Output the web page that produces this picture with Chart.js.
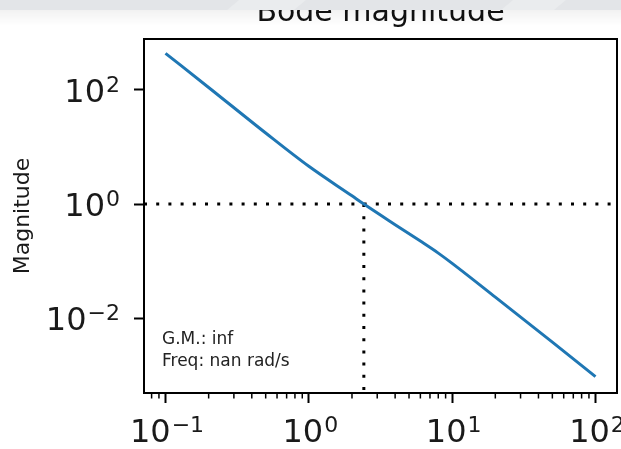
<!DOCTYPE html>
<html>
<head>
<meta charset="utf-8">
<title>Bode magnitude</title>
<script src="https://cdn.jsdelivr.net/npm/chart.js"></script>
<style>
  html, body { margin: 0; padding: 0; background: #fff; }
  canvas { display: block; }
</style>
</head>
<body>
<canvas id="bodeChart" width="621" height="449"></canvas>
<script>
    // Values
    const freqs = [0.1, 0.2, 0.5, 1, 2, 2.42, 4, 6, 8, 10, 20, 50, 100];
    const mags = [436, 110, 17.5, 4.57, 1.39, 1.0, 0.435, 0.224, 0.138, 0.0912, 0.0234, 0.0038, 0.00095];

    // major ticks and their exponents (labels drawn as 10^n)
    const xTicks = [0.1, 1, 10, 100];
    const xTickExps = ['−1', '0', '1', '2'];
    const yTicks = [0.01, 1, 100];
    const yTickExps = ['−2', '0', '2'];

    // axis limits (log decades)
    const xLimits = [Math.pow(10, -1.15), Math.pow(10, 2.15)];
    const yLimits = [Math.pow(10, -3.31), Math.pow(10, 2.89)];

    // crossover frequency (|G| = 1)
    const crossFreq = 2.42;
    const noteLines = ['G.M.: inf', 'Freq: nan rad/s'];

    const FONT = 'DejaVu Sans';

    // draw "10" with a raised exponent, like matplotlib mathtext
    function drawPow(ctx, exp, x, baseline, align) {
        ctx.font = '32px "' + FONT + '"';
        const wBase = ctx.measureText('10').width;
        ctx.font = '22px "' + FONT + '"';
        const wSup = ctx.measureText(exp).width;
        const total = wBase + wSup;
        const start = align === 'right' ? x - total : x - total / 2;
        ctx.textAlign = 'left';
        ctx.textBaseline = 'alphabetic';
        ctx.font = '32px "' + FONT + '"';
        ctx.fillText('10', start, baseline);
        ctx.font = '22px "' + FONT + '"';
        ctx.fillText(exp, start + wBase + 1, baseline - 10);
    }

    // Frame, minor ticks, tick labels, title, annotation and the grey strip at the top
    const decorPlugin = {
        id: 'decor',
        afterDraw(chart) {
            const ctx = chart.ctx;
            const area = chart.chartArea;
            const xs = chart.scales.x;
            const ys = chart.scales.y;
            ctx.save();

            // minor ticks on x
            ctx.strokeStyle = '#000';
            ctx.lineWidth = 1.5;
            for (let e = -2; e <= 2; e++) {
                for (let m = 2; m <= 9; m++) {
                    const v = m * Math.pow(10, e);
                    if (v < xs.min || v > xs.max) continue;
                    const px = xs.getPixelForValue(v);
                    ctx.beginPath();
                    ctx.moveTo(px, area.bottom);
                    ctx.lineTo(px, area.bottom + 5.5);
                    ctx.stroke();
                }
            }

            // axes box
            ctx.lineWidth = 2;
            ctx.strokeRect(area.left, area.top, area.right - area.left, area.bottom - area.top);

            // tick labels
            ctx.fillStyle = '#1a1a1a';
            xTicks.forEach((v, i) => {
                drawPow(ctx, xTickExps[i], xs.getPixelForValue(v) + 1, area.bottom + 49, 'center');
            });
            yTicks.forEach((v, i) => {
                drawPow(ctx, yTickExps[i], area.left - 25, ys.getPixelForValue(v) + 12, 'right');
            });

            // annotation
            ctx.fillStyle = '#222';
            ctx.font = '17px "' + FONT + '"';
            ctx.textBaseline = 'middle';
            ctx.textAlign = 'left';
            noteLines.forEach((t, i) => {
                ctx.fillText(t, area.left + 18, area.bottom - 53 + i * 22);
            });

            // title
            ctx.fillStyle = '#111';
            ctx.font = '30px "' + FONT + '"';
            ctx.textAlign = 'center';
            ctx.textBaseline = 'alphabetic';
            ctx.fillText('Bode magnitude', (area.left + area.right) / 2, 21);

            // grey strip at top
            const grad = ctx.createLinearGradient(0, 10, 0, 26);
            grad.addColorStop(0, 'rgba(0,0,0,0.05)');
            grad.addColorStop(1, 'rgba(0,0,0,0)');
            ctx.fillStyle = grad;
            ctx.fillRect(0, 10, chart.width, 16);
            ctx.fillStyle = '#e3e5e8';
            ctx.fillRect(0, 0, chart.width, 10);
            ctx.fillStyle = '#eaecee';
            [[233, 300], [507, 560]].forEach(([a, b]) => {
                ctx.beginPath();
                ctx.moveTo(a + 6, 0);
                ctx.lineTo(b + 6, 0);
                ctx.lineTo(b - 6, 10);
                ctx.lineTo(a - 6, 10);
                ctx.closePath();
                ctx.fill();
            });
            ctx.restore();
        }
    };

    const bodeData = {
        datasets: [{
            label: 'Magnitude',
            data: freqs.map((f, i) => ({ x: f, y: mags[i] })),
            borderColor: '#1f77b4',
            borderWidth: 3,
            pointRadius: 0,
            cubicInterpolationMode: 'monotone',
            order: 1
        },
        {
            label: 'unity',
            data: [{ x: xLimits[0], y: 1 }, { x: xLimits[1], y: 1 }],
            borderColor: '#000',
            borderWidth: 3,
            borderDash: [3, 9.2],
            pointRadius: 0,
            order: 2
        },
        {
            label: 'crossover',
            data: [{ x: crossFreq, y: 1 }, { x: crossFreq, y: yLimits[0] }],
            borderColor: '#000',
            borderWidth: 3,
            borderDash: [3, 9.2],
            pointRadius: 0,
            order: 2
        }]
    };

    const bodeConfig = {
        type: 'line',
        data: bodeData,
        options: {
            responsive: false,
            animation: false,
            devicePixelRatio: 1,
            layout: { padding: { top: 39, right: 4, left: 0, bottom: 0 } },
            plugins: {
                legend: { display: false },
                title: { display: false },
                tooltip: { enabled: false }
            },
            scales: {
                x: {
                    type: 'logarithmic',
                    min: xLimits[0],
                    max: xLimits[1],
                    border: { display: false },
                    grid: { drawOnChartArea: false, tickLength: 10, tickWidth: 2, tickColor: '#000' },
                    afterBuildTicks: (scale) => { scale.ticks = xTicks.map(v => ({ value: v })); },
                    afterFit: (scale) => {
                        scale.height = 56;
                        scale.paddingLeft = 0;
                        scale.paddingRight = 0;
                    },
                    ticks: { display: false, autoSkip: false, maxRotation: 0 }
                },
                y: {
                    type: 'logarithmic',
                    min: yLimits[0],
                    max: yLimits[1],
                    border: { display: false },
                    grid: { drawOnChartArea: false, tickLength: 10, tickWidth: 2, tickColor: '#000' },
                    afterBuildTicks: (scale) => { scale.ticks = yTicks.map(v => ({ value: v })); },
                    afterFit: (scale) => {
                        scale.width = 144;
                        scale.paddingTop = 0;
                        scale.paddingBottom = 0;
                    },
                    title: {
                        display: true,
                        text: 'Magnitude',
                        color: '#1a1a1a',
                        padding: { top: 10, bottom: 0 },
                        font: { family: FONT, size: 22 }
                    },
                    ticks: { display: false, autoSkip: false }
                }
            }
        },
        plugins: [decorPlugin]
    };

    const bodeChart = new Chart(
        document.getElementById('bodeChart'),
        bodeConfig
    );
</script>
</body>
</html>
